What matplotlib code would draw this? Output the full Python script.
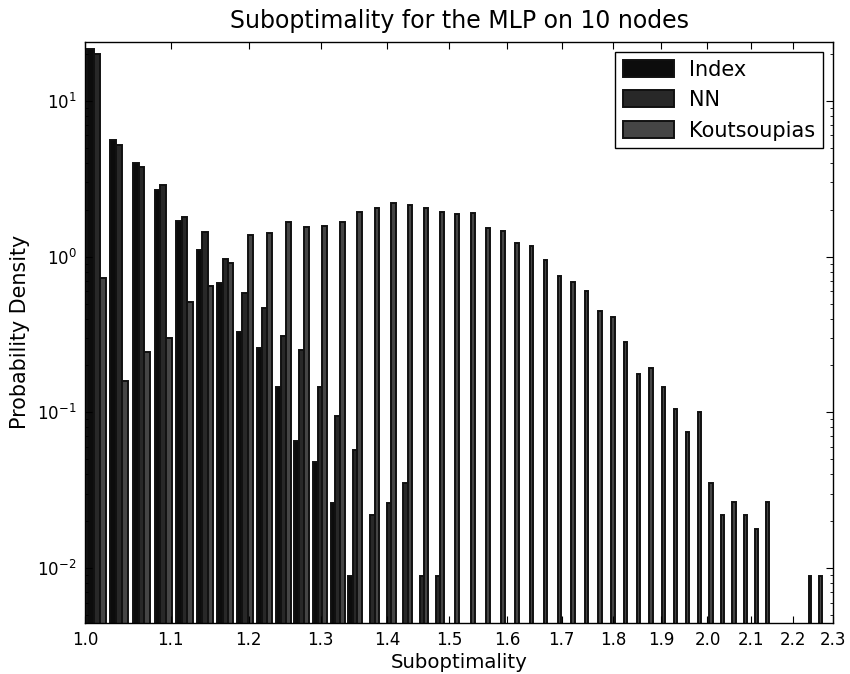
import numpy as np
import matplotlib
matplotlib.use("Agg")
import matplotlib.pyplot as plt
from matplotlib.ticker import FixedLocator, FixedFormatter, NullLocator, NullFormatter, LogLocator

# histogram bins (50 equal bins between 1.0 and 2.3)
bin_edges = np.linspace(1.0, 2.3, 51)

# probability density per bin
index_density = [21.4, 5.6, 4.0, 2.67, 1.69, 1.10, 0.68, 0.33, 0.26, 0.146,
                 0.065, 0.048, 0.026, 0.0089, 0, 0, 0, 0, 0, 0,
                 0, 0, 0, 0, 0, 0, 0, 0, 0, 0,
                 0, 0, 0, 0, 0, 0, 0, 0, 0, 0,
                 0, 0, 0, 0, 0, 0, 0, 0, 0, 0]
nn_density = [20.0, 5.2, 3.77, 2.88, 1.81, 1.43, 0.96, 0.58, 0.47, 0.31,
              0.25, 0.146, 0.095, 0.057, 0.022, 0.026, 0.035, 0.0089, 0.0089, 0,
              0, 0, 0, 0, 0, 0, 0, 0, 0, 0,
              0, 0, 0, 0, 0, 0, 0, 0, 0, 0,
              0, 0, 0, 0, 0, 0, 0, 0, 0, 0]
kouts_density = [0.73, 0.16, 0.243, 0.30, 0.51, 0.65, 0.91, 1.37, 1.42, 1.66,
                 1.54, 1.57, 1.67, 1.94, 2.05, 2.21, 2.15, 2.06, 1.94, 1.88,
                 1.90, 1.53, 1.45, 1.23, 1.17, 0.955, 0.747, 0.69, 0.60, 0.45,
                 0.41, 0.284, 0.176, 0.192, 0.146, 0.105, 0.075, 0.10, 0.035, 0.022,
                 0.0264, 0.022, 0.0177, 0.0264, 0, 0, 0, 0.0089, 0.0089, 0]

labels = ["Index", "NN", "Koutsoupias"]
colors = ["#0c0c0c", "#282828", "#454545"]

xtick_values = [1.0, 1.1, 1.2, 1.3, 1.4, 1.5, 1.6, 1.7, 1.8, 1.9, 2.0, 2.1, 2.2, 2.3]

centers = 0.5 * (bin_edges[:-1] + bin_edges[1:])

fig = plt.figure(figsize=(8.5, 6.74), dpi=100)
ax = fig.add_axes([0.1, 0.0764, 0.88, 0.8613])

ax.hist([centers, centers, centers], bins=bin_edges,
        weights=[index_density, nn_density, kouts_density],
        histtype="bar", log=True, color=colors, label=labels,
        edgecolor="#111111", linewidth=1.4)

ax.set_xscale("log")
ax.set_xlim(1.0, 2.3)
ax.set_ylim(4.47e-3, 23.9)

ax.xaxis.set_major_locator(FixedLocator(xtick_values))
ax.xaxis.set_major_formatter(FixedFormatter(["%.1f" % v for v in xtick_values]))
ax.xaxis.set_minor_locator(NullLocator())
ax.xaxis.set_minor_formatter(NullFormatter())
ax.yaxis.set_minor_locator(LogLocator(base=10, subs=np.arange(2, 10)))
ax.yaxis.set_minor_formatter(NullFormatter())

ax.tick_params(which="both", direction="in", top=True, right=True)
ax.tick_params(which="major", length=5, width=0.8, labelsize=12, pad=6)
ax.tick_params(which="minor", length=2.5, width=0.6)

for s in ax.spines.values():
    s.set_linewidth(1.0)

ax.set_title("Suboptimality for the MLP on 10 nodes", fontsize=17, pad=10)
ax.set_xlabel("Suboptimality", fontsize=14.2, labelpad=3)
ax.set_ylabel("Probability Density", fontsize=14.9, labelpad=5)

leg = ax.legend(loc="upper right", fontsize=15, fancybox=False, framealpha=1,
                edgecolor="black", borderpad=0.35, handlelength=2.45,
                handleheight=0.87, handletextpad=0.75, labelspacing=0.5,
                borderaxespad=0.5)
leg.get_frame().set_linewidth(1.0)

fig.savefig("out.png", dpi=100)
